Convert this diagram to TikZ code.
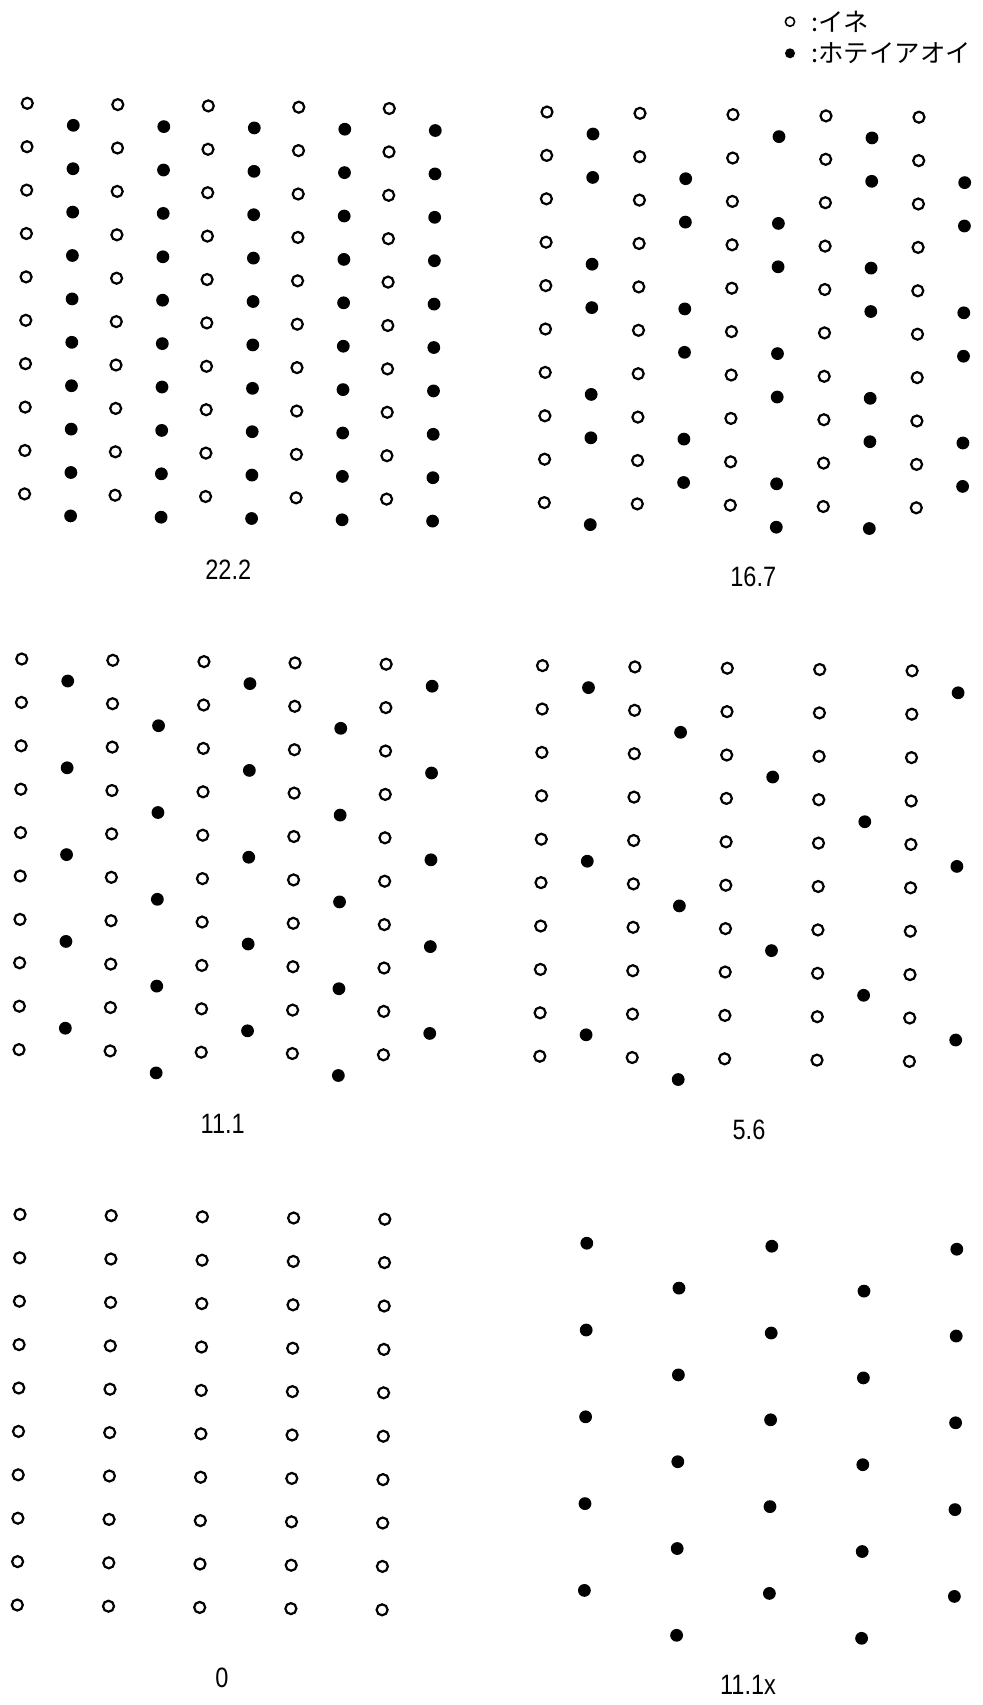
\documentclass[tikz,border=0pt]{standalone}
\usepackage{fontspec}
\setmainfont{Liberation Sans}
\newfontfamily\narrowfont[FakeStretch=0.84]{Liberation Sans}
\newfontfamily\jpfont{Noto Sans CJK JP}
\begin{document}
\begin{tikzpicture}[x=0.5pt, y=-0.5pt,
    rice/.style={draw, line width=1.1pt},
    hyacinth/.style={fill},
    rate/.style={font=\narrowfont\fontsize{14}{16}\selectfont, inner sep=0pt},
    key/.style={font=\jpfont\fontsize{12.7}{14}\selectfont, anchor=west, inner sep=0pt}]
  \useasboundingbox (0,0) rectangle (982,1705);
  % legend
  \draw[rice, line width=0.8pt] (790,21.7) circle[radius=2.3pt];
  \fill[hyacinth] (790,53.3) circle[radius=2.5pt];
  \node[key] (keyrice) at (811,21.7) {:イネ};
  \node[key] (keyhyacinth) at (811,53.3) {:ホテイアオイ};
  % 22.2
  \foreach \i in {0,...,4}
    \foreach \j in {0,...,9} {
      \draw[rice] ({27.3+90.5*\i-0.3*\j}, {103.3+43.4*\j+1.3*\i}) circle[radius=2.75pt];
      \fill[hyacinth] ({73.3+90.5*\i-0.3*\j}, {125.3+43.4*\j+1.3*\i}) circle[radius=3.2pt];
    }
  \node[rate] (r222) at (228.3,570) {22.2};
  % 16.7
  \foreach \i in {0,...,4}
    \foreach \j in {0,...,9}
      \draw[rice] ({547+93*\i-0.3*\j}, {112+43.4*\j+1.3*\i}) circle[radius=2.75pt];
  \foreach \i/\js in {0/{0,1,3,4,6,7,9}, 1/{1,2,4,5,7,8}, 2/{0,2,3,5,6,8,9}, 3/{0,1,3,4,6,7,9}, 4/{1,2,4,5,7,8}}
    \foreach \j in \js
      \fill[hyacinth] ({593+93*\i-0.3*\j}, {134+43.4*\j+1.3*\i}) circle[radius=3.2pt];
  \node[rate] (r167) at (753.3,576.7) {16.7};
  % 11.1
  \foreach \i in {0,...,4}
    \foreach \j in {0,...,9}
      \draw[rice] ({21.75+91.1*\i-0.3*\j}, {659+43.4*\j+1.3*\i}) circle[radius=2.75pt];
  \foreach \i/\js in {0/{0,2,4,6,8}, 1/{1,3,5,7,9}, 2/{0,2,4,6,8}, 3/{1,3,5,7,9}, 4/{0,2,4,6,8}}
    \foreach \j in \js
      \fill[hyacinth] ({67.75+91.1*\i-0.3*\j}, {681+43.4*\j+1.3*\i}) circle[radius=3.2pt];
  \node[rate] (r111) at (222.7,1124.3) {11.1};
  % 5.6
  \foreach \i in {0,...,4}
    \foreach \j in {0,...,9}
      \draw[rice] ({542.5+92.4*\i-0.3*\j}, {665.6+43.4*\j+1.3*\i}) circle[radius=2.75pt];
  \foreach \i/\js in {0/{0,4,8}, 1/{1,5,9}, 2/{2,6}, 3/{3,7}, 4/{0,4,8}}
    \foreach \j in \js
      \fill[hyacinth] ({588.5+92.4*\i-0.3*\j}, {687.6+43.4*\j+1.3*\i}) circle[radius=3.2pt];
  \node[rate] (r56) at (749,1130) {5.6};
  % 0
  \foreach \i in {0,...,4}
    \foreach \j in {0,...,9}
      \draw[rice] ({20+91.2*\i-0.3*\j}, {1214.4+43.4*\j+1.2*\i}) circle[radius=2.75pt];
  \node[rate] (r0) at (222,1678) {0};
  % 11.1x
  \foreach \i/\js in {0/{0,2,4,6,8}, 1/{1,3,5,7,9}, 2/{0,2,4,6,8}, 3/{1,3,5,7,9}, 4/{0,2,4,6,8}}
    \foreach \j in \js
      \fill[hyacinth] ({586.8+92.5*\i-0.3*\j}, {1243.2+43.4*\j+1.5*\i}) circle[radius=3.2pt];
  \node[rate] (r111x) at (748,1685) {11.1x};
\end{tikzpicture}
\end{document}
